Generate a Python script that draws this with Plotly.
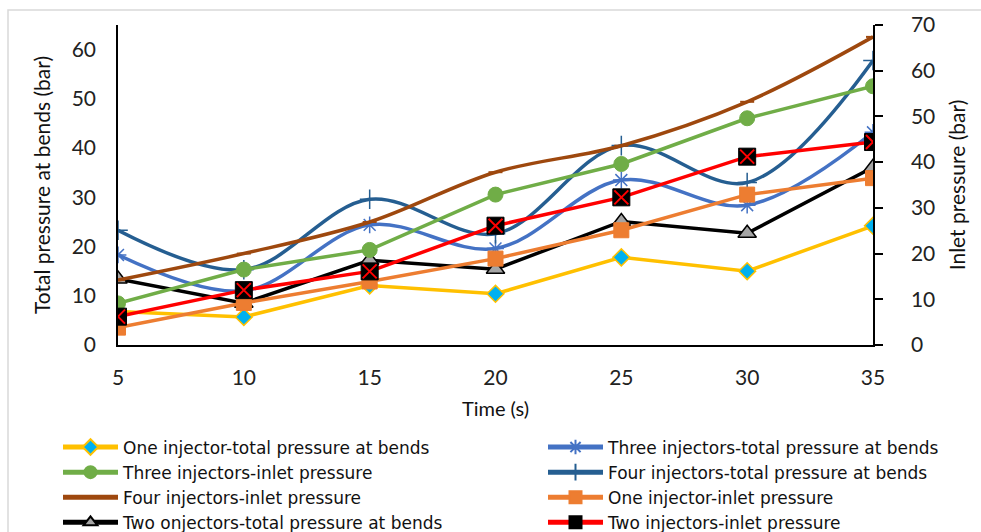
import plotly.graph_objects as go

time_s = [5, 10, 15, 20, 25, 30, 35]

one_inj_total = [6.8, 5.7, 12.1, 10.4, 17.8, 15.0, 24.2]
three_inj_total = [18.3, 11.0, 24.4, 19.6, 33.5, 28.4, 43.2]
three_inj_inlet = [9.1, 16.5, 20.8, 32.9, 39.6, 49.6, 56.6]
four_inj_total = [23.3, 15.3, 29.6, 22.6, 40.5, 33.0, 57.8]
four_inj_inlet = [14.2, 20.0, 26.9, 37.8, 43.6, 53.2, 67.4]
one_inj_inlet = [3.8, 9.2, 13.9, 18.9, 25.1, 32.9, 36.5]
two_inj_total = [13.4, 8.5, 17.2, 15.4, 25.1, 22.7, 36.1]
two_inj_inlet = [6.2, 12.0, 16.1, 26.1, 32.3, 41.2, 44.4]

left_ticks = [0, 10, 20, 30, 40, 50, 60]
right_ticks = [0, 10, 20, 30, 40, 50, 60, 70]

FONT = "Lato"
LEG_FONT = "DejaVu Sans"
LW = 3.5

fig = go.Figure()

fig.add_trace(go.Scatter(
    x=time_s, y=one_inj_total, name="One injector-total pressure at bends",
    mode="lines+markers", line=dict(color="#FFC000", width=LW), legend="legend",
    marker=dict(symbol="diamond", size=13, color="#00B0F0", line=dict(color="#FFC000", width=1.5)),
    yaxis="y"))
fig.add_trace(go.Scatter(
    x=time_s, y=three_inj_total, name="Three injectors-total pressure at bends",
    mode="lines+markers", line=dict(color="#4472C4", width=LW, shape="spline", smoothing=1), legend="legend2",
    marker=dict(symbol="asterisk-open", size=14, color="#4472C4", line=dict(color="#4472C4", width=1.5)),
    yaxis="y"))
fig.add_trace(go.Scatter(
    x=time_s, y=three_inj_inlet, name="Three injectors-inlet pressure",
    mode="lines+markers", line=dict(color="#70AD47", width=LW), legend="legend",
    marker=dict(symbol="circle", size=15, color="#70AD47", line=dict(color="#70AD47", width=1)),
    yaxis="y2"))
fig.add_trace(go.Scatter(
    x=time_s, y=four_inj_total, name="Four injectors-total pressure at bends",
    mode="lines+markers", line=dict(color="#255E91", width=LW, shape="spline", smoothing=1), legend="legend2",
    marker=dict(symbol="cross-thin-open", size=14, color="#255E91", line=dict(color="#255E91", width=1.5)),
    yaxis="y"))
fig.add_trace(go.Scatter(
    x=time_s, y=four_inj_inlet, name="Four injectors-inlet pressure",
    mode="lines+markers", line=dict(color="#9E480E", width=LW, shape="spline", smoothing=1), legend="legend",
    marker=dict(symbol="line-ew-open", size=10, color="#9E480E", line=dict(color="#9E480E", width=2)),
    yaxis="y2"))
fig.add_trace(go.Scatter(
    x=time_s, y=one_inj_inlet, name="One injector-inlet pressure",
    mode="lines+markers", line=dict(color="#ED7D31", width=LW), legend="legend2",
    marker=dict(symbol="square", size=15, color="#ED7D31", line=dict(color="#ED7D31", width=1)),
    yaxis="y2"))
fig.add_trace(go.Scatter(
    x=time_s, y=two_inj_total, name="Two onjectors-total pressure at bends",
    mode="lines+markers", line=dict(color="#000000", width=LW), legend="legend",
    marker=dict(symbol="triangle-up", size=16, color="#A5A5A5", line=dict(color="#000000", width=1.5)),
    yaxis="y"))
fig.add_trace(go.Scatter(
    x=time_s, y=two_inj_inlet, name="Two injectors-inlet pressure",
    mode="lines+markers", line=dict(color="#FF0000", width=LW), legendgroup="red", legend="legend2",
    marker=dict(symbol="square", size=17, color="#000000", line=dict(color="#000000", width=1)),
    yaxis="y2"))
fig.add_trace(go.Scatter(
    x=time_s, y=two_inj_inlet, name="Two injectors-inlet pressure", showlegend=False,
    mode="markers", legendgroup="red", hoverinfo="skip", legend="legend2",
    marker=dict(symbol="x-thin-open", size=14, color="#FF0000", line=dict(color="#FF0000", width=2)),
    yaxis="y2"))

axis_font = dict(family=FONT, size=21, color="#222222")
leg_common = dict(
    orientation="v", yanchor="top", xanchor="left", itemwidth=55, itemsizing="constant",
    font=dict(family=LEG_FONT, size=17, color="#111111"), traceorder="normal",
    bgcolor="rgba(0,0,0,0)", tracegroupgap=0,
)

fig.update_layout(
    width=981, height=532,
    margin=dict(l=118, r=108, t=25, b=187, autoexpand=False),
    paper_bgcolor="white", plot_bgcolor="white",
    font=dict(family=FONT, size=19, color="#111111"),
    xaxis=dict(
        range=[5, 35], tickvals=time_s, ticktext=[str(t) for t in time_s],
        showline=True, linecolor="black", linewidth=1.5, showgrid=False, zeroline=False,
        ticks="", tickfont=axis_font, ticklabelstandoff=13,
        title=dict(text="Time (s)", font=dict(family=FONT, size=20, color="#111111"), standoff=14),
    ),
    yaxis=dict(
        range=[0, 65], tickvals=left_ticks,
        showline=True, linecolor="black", linewidth=1.5, showgrid=False, zeroline=False,
        ticks="", tickfont=axis_font, ticklabelstandoff=16,
        title=dict(text="Total pressure at bends (bar)", font=dict(family=FONT, size=21, color="#111111"), standoff=15),
    ),
    yaxis2=dict(
        range=[0, 70], tickvals=right_ticks, overlaying="y", side="right",
        showline=True, linecolor="black", linewidth=1.5, showgrid=False, zeroline=False,
        ticks="outside", ticklen=8, tickwidth=1.5, tickcolor="black",
        tickfont=axis_font, ticklabelstandoff=24,
        title=dict(text="Inlet pressure (bar)", font=dict(family=FONT, size=21, color="#111111"), standoff=16),
    ),
    legend=dict(x=(58 - 118) / 755, y=(345 - 429.5) / 320, **leg_common),
    legend2=dict(x=(543 - 118) / 755, y=(345 - 429.5) / 320, **leg_common),
    shapes=[dict(type="rect", xref="paper", yref="paper",
                 x0=(8 - 118) / 755, x1=(990 - 118) / 755,
                 y0=(345 - 545) / 320, y1=(345 - 10) / 320,
                 line=dict(color="#D9D9D9", width=1.5), fillcolor="rgba(0,0,0,0)", layer="below")],
)

fig.write_html("out.html")
